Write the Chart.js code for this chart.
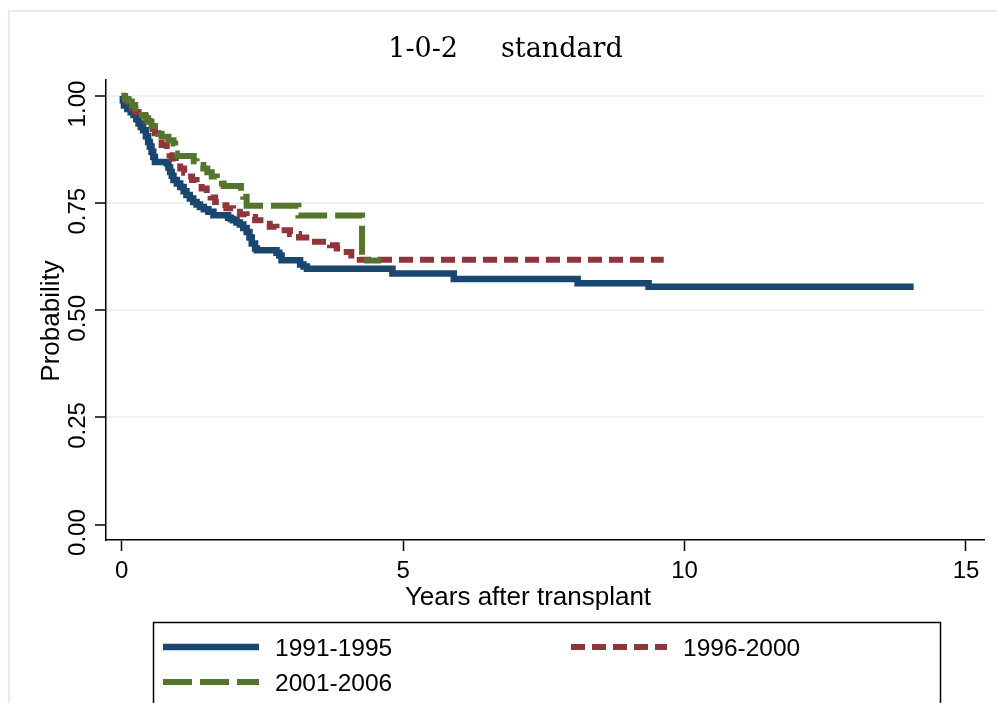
<!DOCTYPE html>
<html>
<head>
<meta charset="utf-8">
<script src="https://cdn.jsdelivr.net/npm/chart.js@4/dist/chart.umd.min.js"></script>
<style>
html,body{margin:0;padding:0;background:#fff;}
#wrap{width:997px;height:703px;position:relative;overflow:hidden;}
canvas{display:block;}
</style>
</head>
<body>
<div id="wrap"><canvas id="c" width="997" height="703"></canvas></div>
<script>
// ---- data ----
const seriesNames = ['1991-1995', '1996-2000', '2001-2006'];

const years1991 = [0, 0.02, 0.04, 0.10, 0.16, 0.21, 0.26, 0.30, 0.34, 0.38,
  0.43, 0.47, 0.50, 0.53, 0.56, 0.59, 0.80, 0.83, 0.86, 0.89,
  0.92, 0.98, 1.04, 1.10, 1.15, 1.21, 1.27, 1.33, 1.39, 1.46,
  1.54, 1.63, 1.89, 1.94, 1.98, 2.04, 2.10, 2.16, 2.22, 2.27,
  2.31, 2.37, 2.40, 2.75, 2.80, 2.84, 3.17, 3.23, 3.29, 4.81,
  5.90, 8.10, 9.36, 14.07];
const surv1991 = [1, 0.990, 0.978, 0.970, 0.962, 0.956, 0.946, 0.936, 0.928, 0.920,
  0.906, 0.893, 0.882, 0.870, 0.858, 0.846, 0.843, 0.833, 0.823, 0.814,
  0.804, 0.796, 0.788, 0.778, 0.769, 0.761, 0.753, 0.747, 0.741, 0.736,
  0.730, 0.722, 0.716, 0.713, 0.710, 0.705, 0.700, 0.692, 0.683, 0.670,
  0.656, 0.644, 0.640, 0.634, 0.628, 0.617, 0.607, 0.602, 0.597, 0.586,
  0.573, 0.563, 0.555, 0.555];

const years1996 = [0, 0.06, 0.12, 0.18, 0.24, 0.30, 0.36, 0.43, 0.50, 0.55,
  0.59, 0.65, 0.71, 0.80, 0.85, 0.89, 0.96, 1.04, 1.11, 1.18,
  1.25, 1.33, 1.42, 1.51, 1.58, 1.66, 1.76, 1.86, 1.98, 2.10,
  2.22, 2.37, 2.52, 2.63, 2.75, 2.99, 3.15, 3.34, 3.70, 3.82,
  3.94, 4.08, 4.23, 9.63];
const surv1996 = [1, 0.990, 0.979, 0.971, 0.963, 0.957, 0.952, 0.942, 0.933, 0.923,
  0.913, 0.899, 0.886, 0.870, 0.862, 0.854, 0.843, 0.831, 0.821, 0.812,
  0.804, 0.796, 0.784, 0.773, 0.763, 0.753, 0.745, 0.738, 0.730, 0.724,
  0.718, 0.710, 0.702, 0.695, 0.687, 0.678, 0.670, 0.660, 0.652, 0.644,
  0.636, 0.628, 0.618, 0.618];

const years2001 = [0, 0.06, 0.12, 0.18, 0.24, 0.30, 0.36, 0.42, 0.47, 0.53,
  0.59, 0.65, 0.71, 0.83, 0.92, 0.95, 0.98, 1.28, 1.33, 1.45,
  1.52, 1.60, 1.69, 1.78, 1.81, 2.12, 2.16, 2.22, 3.14, 4.27, 4.61];
const surv2001 = [1, 0.993, 0.987, 0.979, 0.971, 0.963, 0.956, 0.948, 0.940, 0.930,
  0.920, 0.912, 0.905, 0.897, 0.889, 0.866, 0.860, 0.848, 0.839, 0.831,
  0.822, 0.812, 0.804, 0.796, 0.790, 0.775, 0.765, 0.744, 0.721, 0.616, 0.616];

const xTicks = [0, 5, 10, 15];
const yTicks = [0, 0.25, 0.5, 0.75, 1];
const yTickLabels = ['0.00', '0.25', '0.50', '0.75', '1.00'];

const chartTitle = '1-0-2     standard';
const xAxisTitle = 'Years after transplant';
const yAxisTitle = 'Probability';

// ---- styles ----
const SANS = "'Liberation Sans', Arial, Helvetica, sans-serif";
const colors = ['#1a476f', '#90353b', '#55752f'];
const dashes = [[], [14, 7], [29, 8]];
const widths = [6.5, 6, 6];

function pts(ts, ss) { return ts.map((t, i) => ({x: t, y: ss[i]})); }

const legendSlots = [[163, 647], [571, 647], [163, 682]];

const decor = {
  id: 'decor',
  beforeDraw(chart) {
    const c = chart.ctx;
    c.save();
    c.fillStyle = '#ffffff';
    c.fillRect(0, 0, chart.width, chart.height);
    c.strokeStyle = '#e4ecee';
    c.lineWidth = 2;
    c.beginPath();
    c.moveTo(9, chart.height + 2);
    c.lineTo(9, 11);
    c.lineTo(chart.width + 2, 11);
    c.stroke();
    c.restore();
  },
  afterDraw(chart) {
    const c = chart.ctx;
    const a = chart.chartArea;
    c.save();
    c.fillStyle = '#000';
    // x axis title
    c.font = '26px ' + SANS;
    c.textAlign = 'center';
    c.textBaseline = 'middle';
    c.fillText(xAxisTitle, (a.left + a.right) / 2 - 17, a.bottom + 58);
    // y axis title
    c.save();
    c.translate(52, (a.top + a.bottom) / 2 + 11);
    c.rotate(-Math.PI / 2);
    c.fillText(yAxisTitle, 0, 0);
    c.restore();
    // legend box
    c.strokeStyle = '#000';
    c.lineWidth = 1.5;
    c.strokeRect(153.5, 622.5, 787, 200);
    chart.data.datasets.forEach((ds, i) => {
      const [lx, ly] = legendSlots[i];
      c.save();
      c.strokeStyle = ds.borderColor;
      c.lineWidth = ds.borderWidth;
      c.lineCap = 'butt';
      c.setLineDash(ds.borderDash || []);
      c.beginPath();
      c.moveTo(lx, ly);
      c.lineTo(lx + 96, ly);
      c.stroke();
      c.restore();
      c.font = '24.5px ' + SANS;
      c.textAlign = 'left';
      c.textBaseline = 'middle';
      c.fillStyle = '#000';
      c.fillText(ds.label, lx + 112, ly + 2);
    });
    c.restore();
  }
};

Chart.defaults.color = '#000';

new Chart(document.getElementById('c'), {
  type: 'line',
  data: {
    datasets: [
      {label: seriesNames[0], data: pts(years1991, surv1991), borderColor: colors[0], borderWidth: widths[0],
       borderDash: dashes[0], stepped: true, pointRadius: 0, order: 3, fill: false},
      {label: seriesNames[1], data: pts(years1996, surv1996), borderColor: colors[1], borderWidth: widths[1],
       borderDash: dashes[1], stepped: true, pointRadius: 0, order: 2, fill: false},
      {label: seriesNames[2], data: pts(years2001, surv2001), borderColor: colors[2], borderWidth: widths[2],
       borderDash: dashes[2], stepped: true, pointRadius: 0, order: 1, fill: false}
    ]
  },
  options: {
    responsive: false,
    animation: false,
    events: [],
    devicePixelRatio: 1,
    layout: {padding: {left: 27, right: 13, top: 0, bottom: 0}},
    plugins: {
      legend: {display: false},
      tooltip: {enabled: false},
      title: {
        display: true,
        text: chartTitle,
        color: '#000',
        font: {family: "'DejaVu Serif', serif", size: 27, weight: 'normal', lineHeight: 1.2},
        padding: {top: 33.5, bottom: 14.1}
      }
    },
    scales: {
      x: {
        type: 'linear',
        min: -0.279,
        max: 15.32,
        afterFit(s) { s.height = 163; },
        afterBuildTicks(s) { s.ticks = xTicks.map(v => ({value: v})); },
        ticks: {font: {family: SANS, size: 24}, color: '#000', padding: 6, maxRotation: 0,
                callback: v => String(v)},
        grid: {drawOnChartArea: false, drawTicks: true, tickLength: 11, tickColor: '#000', tickWidth: 1.5},
        border: {display: true, color: '#000', width: 1.5}
      },
      y: {
        type: 'linear',
        min: -0.036,
        max: 1.0374,
        afterFit(s) { s.width = 79; },
        afterBuildTicks(s) { s.ticks = yTicks.map(v => ({value: v})); },
        ticks: {font: {family: SANS, size: 24}, color: '#000', padding: -7, labelOffset: 8,
                minRotation: 90, maxRotation: 90, crossAlign: 'center',
                callback: v => yTickLabels[yTicks.indexOf(v)]},
        grid: {
          color: ctx => (ctx.tick && ctx.tick.value === 0) ? 'rgba(0,0,0,0)' : '#eaf2f3',
          lineWidth: 2,
          drawTicks: true, tickLength: 11, tickColor: '#000', tickWidth: 1.5
        },
        border: {display: true, color: '#000', width: 1.5}
      }
    }
  },
  plugins: [decor]
});
</script>
</body>
</html>
